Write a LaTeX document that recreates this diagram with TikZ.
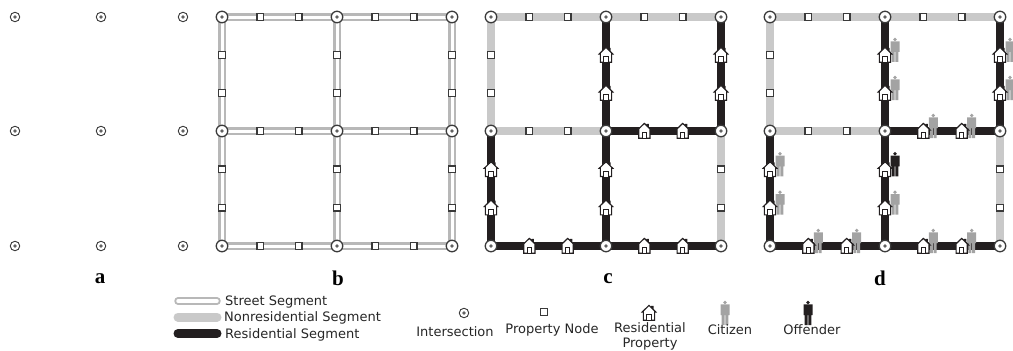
\documentclass[tikz,border=0pt]{standalone}
\usepackage{fontspec}
\setmainfont{DejaVu Sans}
\newfontfamily\panelfont{Liberation Serif}
\usetikzlibrary{calc}
\definecolor{inkblack}{HTML}{231F20}
\definecolor{nonresgrey}{HTML}{C9C9C9}
\definecolor{streetgrey}{HTML}{B8B8B8}
\definecolor{citizengrey}{HTML}{A3A3A3}
\definecolor{symbolgrey}{HTML}{3A3A3A}
\tikzset{
  nonres/.style={draw=nonresgrey,line width=8.5pt},
  resid/.style={draw=inkblack,line width=8.5pt},
  legendline/.style={line cap=round},
  propnode/.style={draw=symbolgrey,fill=white,line width=1.2pt,minimum size=6.8pt,inner sep=0pt,shape=rectangle},
  isect/.style={draw=symbolgrey,fill=white,line width=1.3pt,circle,minimum size=11.5pt,inner sep=0pt,
     path picture={\fill[symbolgrey!80] (path picture bounding box.center) circle (1.9pt);}},
  isectsmall/.style={isect,minimum size=9.5pt,line width=.9pt},
  panellabel/.style={font=\panelfont\bfseries\fontsize{21}{21}\selectfont,inner sep=0pt},
  legendtext/.style={font=\fontsize{13}{15}\selectfont,text=black!85,inner sep=0pt,align=center},
  pics/house/.style={code={
    \draw[fill=white,draw=inkblack,line width=1.15pt,line join=miter]
      (-5.6,7.2) -- (-5.6,-1) -- (-6.8,-1) -- (0,-7.6) -- (2.8,-4.9) -- (2.8,-6.5) -- (4,-6.5) -- (4,-3.7) -- (6.8,-1) -- (5.6,-1) -- (5.6,7.2) -- cycle;
    \draw[draw=inkblack,line width=1.15pt,fill=white] (-2.2,7.2) -- (-2.2,1.8) -- (2.2,1.8) -- (2.2,7.2);
  }},
  pics/person/.style={code={
    \fill[#1] (0,-10.5) circle (1.9pt);
    \fill[#1] (-4.5,-8.6) -- (4.5,-8.6) -- (4.5,2) -- (3.4,2) -- (3.4,12) -- (.4,12) -- (.4,2) -- (-.4,2) -- (-.4,12) -- (-3.4,12) -- (-3.4,2) -- (-4.5,2) -- cycle;
  }},
}
\newcommand{\gridpts}[2]{%
  \foreach \i/\xx in {0/0,1/115,2/230}{\foreach \j/\yy in {0/17,1/131,2/246}{%
    \coordinate (#1\i\j) at ({#2+\xx},\yy);}}}
\newcommand{\gridisect}[1]{%
  \foreach \i in {0,1,2}{\foreach \j in {0,1,2}{%
    \node[isect] (#1n\i\j) at (#1\i\j) {};}}}
\newcommand{\twoprops}[3]{%
  \node[propnode] (#1#2#3p) at ($(#1#2)!.3333!(#1#3)$) {};
  \node[propnode] (#1#2#3q) at ($(#1#2)!.6667!(#1#3)$) {};}
\newcommand{\twohouses}[3]{%
  \pic at ($(#1#2)!.3333!(#1#3)$) {house};
  \pic at ($(#1#2)!.6667!(#1#3)$) {house};}
\newcommand{\landuse}[1]{%
  \draw[nonres] (#100) -- (#110); \draw[nonres] (#110) -- (#120);
  \draw[nonres] (#100) -- (#101); \draw[nonres] (#101) -- (#111);
  \draw[nonres] (#121) -- (#122);
  \draw[resid] (#110) -- (#111); \draw[resid] (#120) -- (#121);
  \draw[resid] (#111) -- (#121); \draw[resid] (#101) -- (#102);
  \draw[resid] (#111) -- (#112); \draw[resid] (#102) -- (#112); \draw[resid] (#112) -- (#122);}
\newcommand{\landmarks}[1]{%
  \twoprops{#1}{00}{10}\twoprops{#1}{10}{20}\twoprops{#1}{00}{01}\twoprops{#1}{01}{11}\twoprops{#1}{21}{22}
  \twohouses{#1}{10}{11}\twohouses{#1}{20}{21}\twohouses{#1}{11}{21}\twohouses{#1}{01}{02}
  \twohouses{#1}{11}{12}\twohouses{#1}{02}{12}\twohouses{#1}{12}{22}
  \gridisect{#1}}
\newcommand{\twocitizens}[3]{%
  \pic at ($(#1#2)!.3333!(#1#3)+(10,-5)$) {person=citizengrey};
  \pic at ($(#1#2)!.6667!(#1#3)+(10,-5)$) {person=citizengrey};}
\begin{document}
\begin{tikzpicture}[x=1pt,y=-1pt]
\useasboundingbox (0,0) rectangle (1013,351);
% panel a
\foreach \i/\xx in {0/15,1/101,2/183}{\foreach \j/\yy in {0/17,1/131,2/246}{%
  \node[isectsmall] (a\i\j) at (\xx,\yy) {};}}
% panel b
\gridpts{b}{222}
\foreach \p/\q in {00/10,10/20,01/11,11/21,02/12,12/22,00/01,01/02,10/11,11/12,20/21,21/22}{%
  \draw[streetgrey,line width=7.5pt] (b\p) -- (b\q);}
\foreach \p/\q in {00/10,10/20,01/11,11/21,02/12,12/22,00/01,01/02,10/11,11/12,20/21,21/22}{%
  \draw[white,line width=3pt] (b\p) -- (b\q);}
\foreach \p/\q in {00/10,10/20,01/11,11/21,02/12,12/22,00/01,01/02,10/11,11/12,20/21,21/22}{%
  \twoprops{b}{\p}{\q}}
\gridisect{b}
% panel c
\gridpts{c}{491}
\landuse{c}
\landmarks{c}
% panel d
\gridpts{d}{770}
\landuse{d}
\twocitizens{d}{10}{11}\twocitizens{d}{20}{21}\twocitizens{d}{11}{21}\twocitizens{d}{01}{02}
\twocitizens{d}{02}{12}\twocitizens{d}{12}{22}
\pic at ($(d11)!.3333!(d12)+(10,-5)$) {person=inkblack};
\pic at ($(d11)!.6667!(d12)+(10,-5)$) {person=citizengrey};
\landmarks{d}
% panel letters
\node[panellabel] (la) at (100,279) {a};
\node[panellabel] (lb) at (338,278) {b};
\node[panellabel] (lc) at (608,279) {c};
\node[panellabel] (ld) at (880,278) {d};
% legend lines
\coordinate (ls1) at (178,301); \coordinate (le1) at (217,301);
\coordinate (ls2) at (178,317); \coordinate (le2) at (217,317);
\coordinate (ls3) at (178,333.5); \coordinate (le3) at (217,333.5);
\draw[legendline,streetgrey,line width=7.5pt] (ls1) -- (le1);
\draw[legendline,white,line width=3.5pt] (ls1) -- (le1);
\draw[legendline,nonresgrey,line width=9pt] (ls2) -- (le2);
\draw[legendline,inkblack,line width=9pt] (ls3) -- (le3);
\node[legendtext,anchor=west] (t1) at (225,302) {Street Segment};
\node[legendtext,anchor=west] (t2) at (224,318) {Nonresidential Segment};
\node[legendtext,anchor=west] (t3) at (225,334.5) {Residential Segment};
% legend symbols
\node[isectsmall] (k1) at (464,313) {};
\node[legendtext] (kt1) at (455,332) {Intersection};
\node[propnode] (k2) at (544,312) {};
\node[legendtext] (kt2) at (552,330) {Property Node};
\pic at (649,313) {house};
\node[legendtext] (kt3) at (650,336.5) {Residential\\Property};
\pic at (725,313) {person=citizengrey};
\node[legendtext] (kt4) at (730,330) {Citizen};
\pic at (808,313) {person=inkblack};
\node[legendtext] (kt5) at (812,330) {Offender};
\end{tikzpicture}
\end{document}
